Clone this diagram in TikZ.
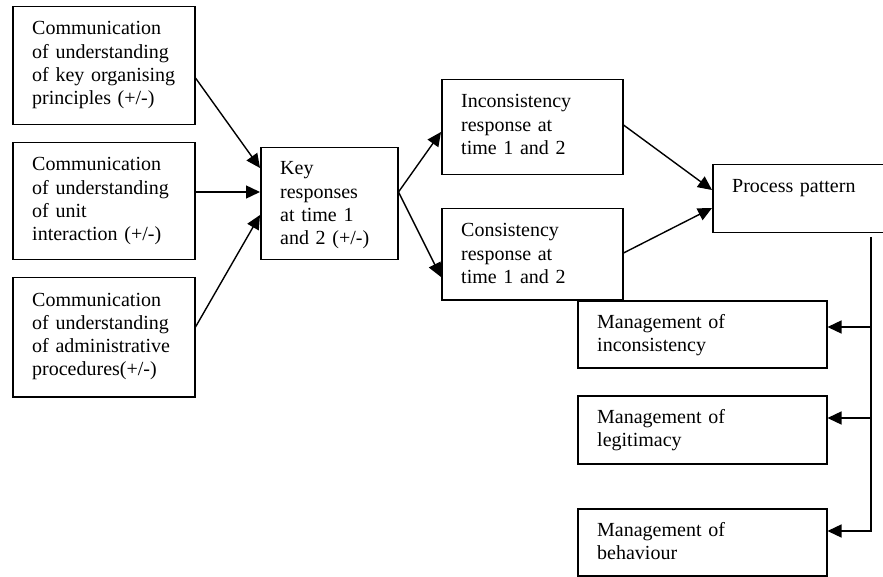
\documentclass[tikz,border=0pt]{standalone}
\usepackage{fontspec}
\setmainfont{Liberation Serif}
\usetikzlibrary{arrows.meta,calc}

\begin{document}
\begin{tikzpicture}[x=1pt,y=-1pt,
  box/.style={draw, line width=1.5pt, inner sep=0pt, rectangle, anchor=north west},
  txt/.style={anchor=base west, inner sep=0pt, align=left, text width=#1,
    font=\fontsize{20}{23.3}\selectfont},
  arr/.style={line width=1.4pt, -{Triangle[length=14pt,width=13pt]}},
  link/.style={line width=1.4pt}]
\useasboundingbox (0,0) rectangle (883,577);
\clip (0,0) rectangle (883,577);

% left column: communication inputs
\node[box, minimum width=182pt, minimum height=118pt] (a1) at (12,6) {};
\node[txt=175pt] (a1t) at ($(a1.north west)+(20,29)$)
  {Communication\\of understanding\\of key organising\\principles (+/-)};
\node[box, minimum width=182pt, minimum height=117pt] (a2) at (12,142) {};
\node[txt=175pt] (a2t) at ($(a2.north west)+(20,29)$)
  {Communication\\of understanding\\of unit\\interaction (+/-)};
\node[box, minimum width=182pt, minimum height=119pt] (a3) at (12,277) {};
\node[txt=175pt] (a3t) at ($(a3.north west)+(20,29)$)
  {Communication\\of understanding\\of administrative\\procedures(+/-)};

% key responses
\node[box, minimum width=137pt, minimum height=112pt] (k) at (260,147) {};
\node[txt=130pt] (kt) at ($(k.north west)+(20,28)$)
  {Key\\responses\\at time 1\\and 2 (+/-)};

% response types
\node[box, minimum width=181pt, minimum height=95pt] (i) at (441,79) {};
\node[txt=170pt] (it) at ($(i.north west)+(20,29)$)
  {Inconsistency\\response at\\time 1 and 2};
\node[box, minimum width=181pt, minimum height=91pt] (c) at (441,208) {};
\node[txt=170pt] (ct) at ($(c.north west)+(20,29)$)
  {Consistency\\response at\\time 1 and 2};

% process pattern
\node[box, minimum width=200pt, minimum height=68pt] (p) at (712,164) {};
\node[txt=170pt] (pt) at ($(p.north west)+(20,29)$) {Process pattern};

% management outcomes
\node[box, minimum width=249pt, minimum height=67pt] (m1) at (577,300) {};
\node[txt=220pt] (m1t) at ($(m1.north west)+(20,28)$)
  {Management of\\inconsistency};
\node[box, minimum width=249pt, minimum height=68pt] (m2) at (577,395) {};
\node[txt=220pt] (m2t) at ($(m2.north west)+(20,28)$)
  {Management of\\legitimacy};
\node[box, minimum width=249pt, minimum height=67pt] (m3) at (577,508) {};
\node[txt=220pt] (m3t) at ($(m3.north west)+(20,28)$)
  {Management of\\behaviour};

% inputs into key responses
\draw[arr] ([yshift=-72pt]a1.north east) -- ([yshift=-21pt]k.north west);
\draw[arr] ([yshift=-50pt]a2.north east) -- ([yshift=-45pt]k.north west);
\draw[arr] ([yshift=-50pt]a3.north east) -- ([yshift=-68pt]k.north west);

% key responses split into the two response types
\draw[arr] ([yshift=-45pt]k.north east) -- ([yshift=-53pt]i.north west);
\draw[arr] ([yshift=-45pt]k.north east) -- ([yshift=-69pt]c.north west);

% response types into process pattern
\draw[arr] ([yshift=-46pt]i.north east) -- ([yshift=-26pt]p.north west);
\draw[arr] ([yshift=-45pt]c.north east) -- ([yshift=-44pt]p.north west);

% feedback bus down the right side
\coordinate (pdrop) at (871,237);
\coordinate (m1in) at ([yshift=-27pt]m1.north east);
\coordinate (m2in) at ([yshift=-23pt]m2.north east);
\coordinate (m3in) at ([yshift=-23pt]m3.north east);
\draw[arr] (pdrop) -- (m3in -| pdrop) -- (m3in);
\draw[arr] (m1in -| pdrop) -- (m1in);
\draw[arr] (m2in -| pdrop) -- (m2in);
\end{tikzpicture}
\end{document}
